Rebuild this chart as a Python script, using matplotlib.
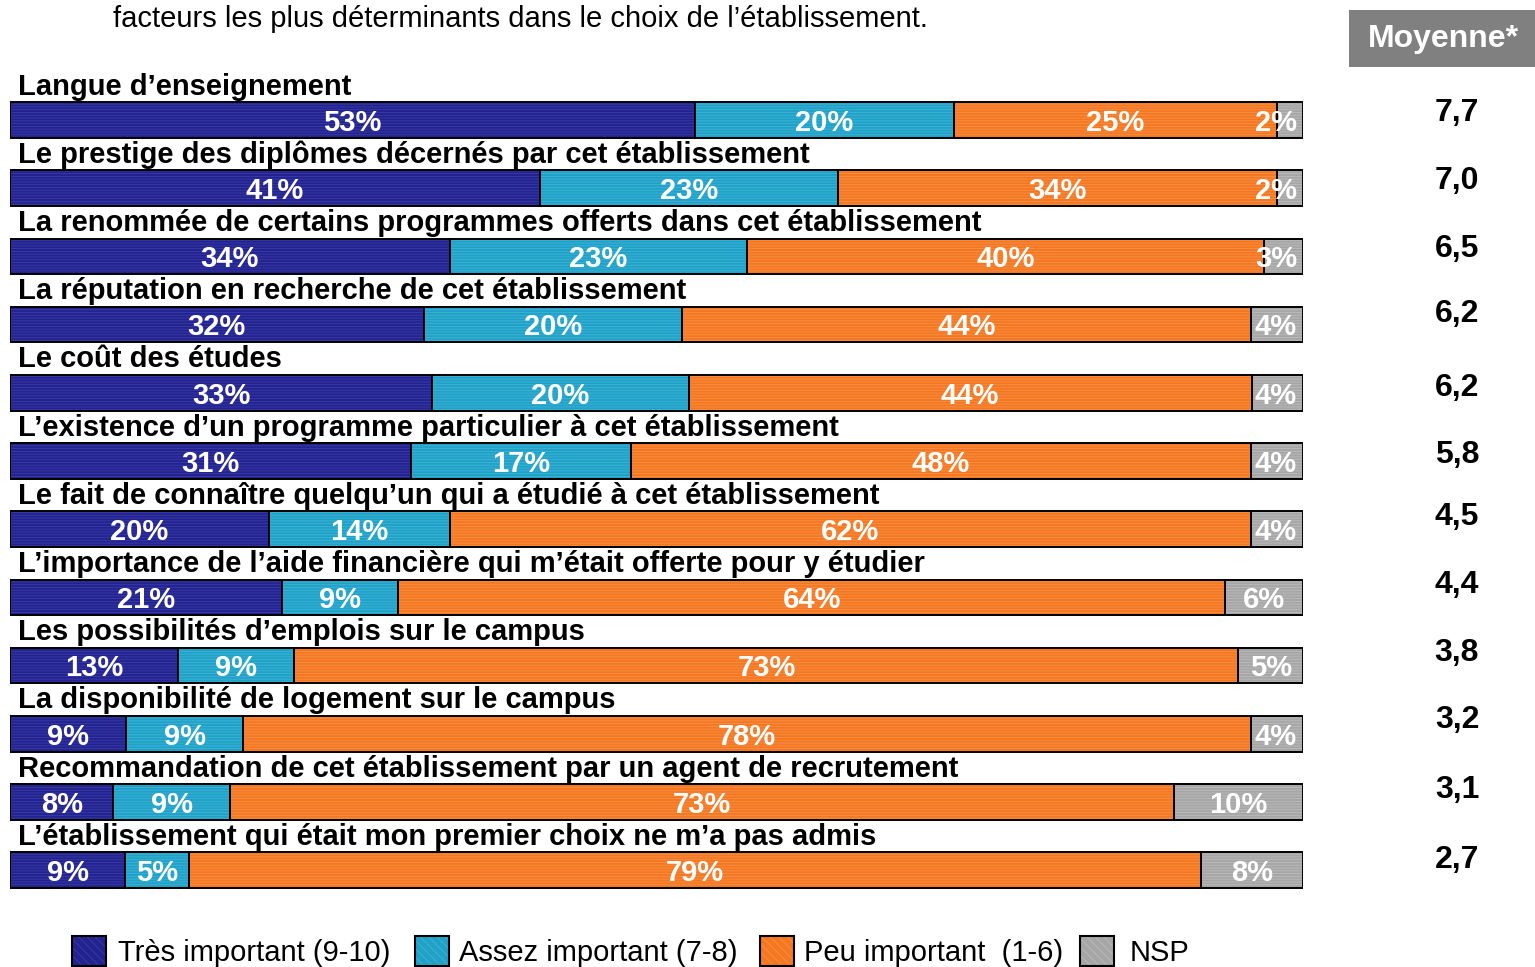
import matplotlib.pyplot as plt
from matplotlib.patches import Rectangle

plt.rcParams['font.family'] = ['Liberation Sans', 'DejaVu Sans']
plt.rcParams['hatch.linewidth'] = 0.6

categories = [
    "Langue d\u2019enseignement",
    "Le prestige des dipl\u00f4mes d\u00e9cern\u00e9s par cet \u00e9tablissement",
    "La renomm\u00e9e de certains programmes offerts dans cet \u00e9tablissement",
    "La r\u00e9putation en recherche de cet \u00e9tablissement",
    "Le co\u00fbt des \u00e9tudes",
    "L\u2019existence d\u2019un programme particulier \u00e0 cet \u00e9tablissement",
    "Le fait de conna\u00eetre quelqu\u2019un qui a \u00e9tudi\u00e9 \u00e0 cet \u00e9tablissement",
    "L\u2019importance de l\u2019aide financi\u00e8re qui m\u2019\u00e9tait offerte pour y \u00e9tudier",
    "Les possibilit\u00e9s d\u2019emplois sur le campus",
    "La disponibilit\u00e9 de logement sur le campus",
    "Recommandation de cet \u00e9tablissement par un agent de recrutement",
    "L\u2019\u00e9tablissement qui \u00e9tait mon premier choix ne m\u2019a pas admis",
]
tres = [53, 41, 34, 32, 33, 31, 20, 21, 13, 9, 8, 9]
assez = [20, 23, 23, 20, 20, 17, 14, 9, 9, 9, 9, 5]
peu = [25, 34, 40, 44, 44, 48, 62, 64, 73, 78, 73, 79]
nsp = [2, 2, 3, 4, 4, 4, 4, 6, 5, 4, 10, 8]
moyenne = ["7,7", "7,0", "6,5", "6,2", "6,2", "5,8", "4,5", "4,4", "3,8", "3,2", "3,1", "2,7"]

series = [tres, assez, peu, nsp]
names = ["Tr\u00e8s important (9-10)", "Assez important (7-8)", "Peu important  (1-6)", "NSP"]
fills = ["#23238f", "#20a2c8", "#f57820", "#a6a6a6"]
hatch_cols = ["#3c3ca8", "#40b2d6", "#f7904a", "#bcbcbc"]

# decalage vertical (px) des moyennes, comme dans l'original
moy_dy = [-7, -7, -7, -11, -5, -6, -12, -12, -13, -14, -12, -10]

W, H = 1535, 967
fig = plt.figure(figsize=(W / 100, H / 100), dpi=100)
ax = fig.add_axes([10 / W, 0, 1293 / W, 1])
ax.set_xlim(0, 100)
ax.set_ylim(12.42, -1.76)
ax.axis('off')

n = len(categories)
for i in range(n):
    total = sum(s[i] for s in series)
    left = 0
    for k, s in enumerate(series):
        w = s[i] / total * 100
        ax.barh(i, w, left=left, height=0.52, color=fills[k], edgecolor=hatch_cols[k],
                linewidth=0, hatch='------')
        ax.barh(i, w, left=left, height=0.52, fill=False, edgecolor='black', linewidth=1.4)
        xc = min(left + w / 2, 100 - 2.1)
        ax.text(xc, i + 0.04, f"{s[i]}%", ha='center', va='center', color='white',
                fontsize=21, fontweight='bold')
        left += w
    ax.text(0.6, i - 0.49, categories[i], ha='left', va='center', fontsize=21,
            fontweight='bold', color='black')
    fig.text(1457 / W, 1 - (120 + 68.2 * i + moy_dy[i]) / H, moyenne[i], ha='center',
             va='center', fontsize=23, fontweight='bold')

# en-tete "Moyenne*"
fig.patches.append(Rectangle((1349 / W, 1 - 67 / H), 186 / W, 57 / H, transform=fig.transFigure,
                             facecolor='#808080', edgecolor='none'))
fig.text(1443 / W, 1 - 39 / H, "Moyenne*", ha='center', va='center', color='white',
         fontsize=23, fontweight='bold')

fig.text(113 / W, 1 - 19 / H,
         "facteurs les plus d\u00e9terminants dans le choix de l\u2019\u00e9tablissement.",
         ha='left', va='center', fontsize=21)

# legende
leg_x = [72, 415, 760, 1080]
txt_x = [118, 459, 804, 1130]
for k in range(4):
    box = (leg_x[k] / W, 1 - 966 / H)
    fig.patches.append(Rectangle(box, 34 / W, 30 / H, transform=fig.transFigure,
                                 facecolor=fills[k], edgecolor=hatch_cols[k], linewidth=0,
                                 hatch='\\\\\\\\'))
    fig.patches.append(Rectangle(box, 34 / W, 30 / H, transform=fig.transFigure,
                                 fill=False, edgecolor='black', linewidth=1.5))
    fig.text(txt_x[k] / W, 1 - 953 / H, names[k], ha='left', va='center', fontsize=21)

fig.savefig('out.png', dpi=100)
